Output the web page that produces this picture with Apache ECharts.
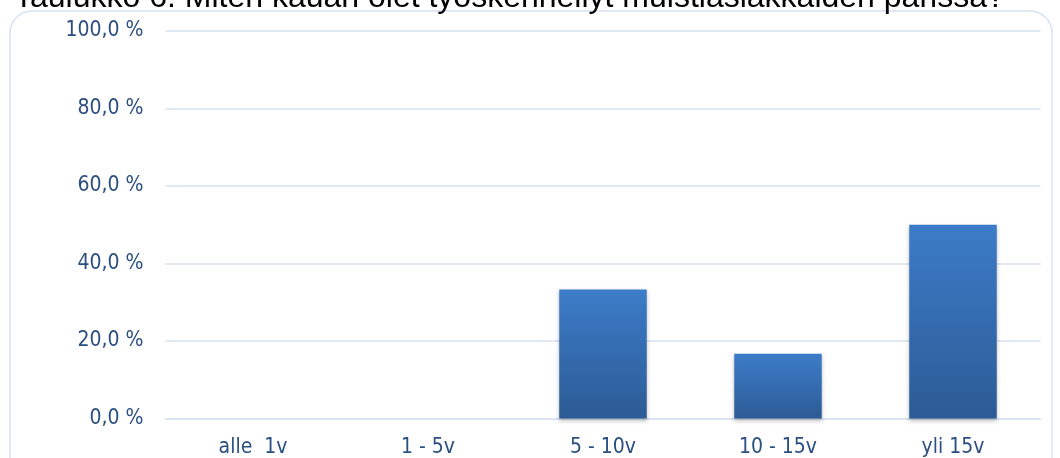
<!DOCTYPE html>
<html><head><meta charset="utf-8">
<script src="https://cdn.jsdelivr.net/npm/echarts@6/dist/echarts.min.js"></script>
<style>html,body{margin:0;padding:0;background:#fff}#c{width:1060px;height:458px}</style>
</head><body><div id="c"></div>
<script>
const titleText = 'Taulukko 6. Miten kauan olet työskennellyt muistiasiakkaiden parissa?';
const categories = ['alle  1v', '1 - 5v', '5 - 10v', '10 - 15v', 'yli 15v'];
const values = [0, 0, 33.3, 16.7, 50.0];
const yTicks = [0, 20, 40, 60, 80, 100];

const chart = echarts.init(document.getElementById('c'));
const labelColor = '#2b4f80';
const labelFont = '"Liberation Sans Narrow", "DejaVu Sans Condensed", sans-serif';
chart.setOption({
  animation: false,
  graphic: [
    {type:'rect', shape:{x:10, y:11, width:1042, height:480, r:22}, style:{fill:'none', stroke:'#d6e2f1', lineWidth:1.5}, z:-1},
    {type:'text', x:14, y:14, style:{text:titleText, font:'32px "Liberation Sans", Arial', fill:'#000', verticalAlign:'bottom'}}
  ],
  grid: {left:165.5, right:19.5, top:31, bottom:39.5, containLabel:false, outerBoundsMode:'none'},
  xAxis: {
    type:'category', data:categories,
    axisLine:{lineStyle:{color:'#d6e2f1', width:1.5}}, axisTick:{show:false},
    axisLabel:{color:labelColor, fontSize:21, fontFamily:labelFont, margin:19}
  },
  yAxis: {
    type:'value', min:0, max:100, interval:20,
    axisLabel:{color:labelColor, fontSize:21, fontFamily:labelFont, margin:22,
      formatter: v => v.toFixed(1).replace('.', ',') + ' %'},
    splitLine:{lineStyle:{color:'#d6e2f1', width:1.5}},
    axisLine:{show:false}, axisTick:{show:false}
  },
  series: [{
    type:'bar', data:values, barCategoryGap:'50%',
    itemStyle:{
      color:new echarts.graphic.LinearGradient(0,0,0,1,[{offset:0,color:'#3c7cc8'},{offset:1,color:'#2c5b95'}]),
      shadowColor:'rgba(0,0,0,0.25)', shadowBlur:4, shadowOffsetY:2
    }
  }]
});
</script></body></html>
